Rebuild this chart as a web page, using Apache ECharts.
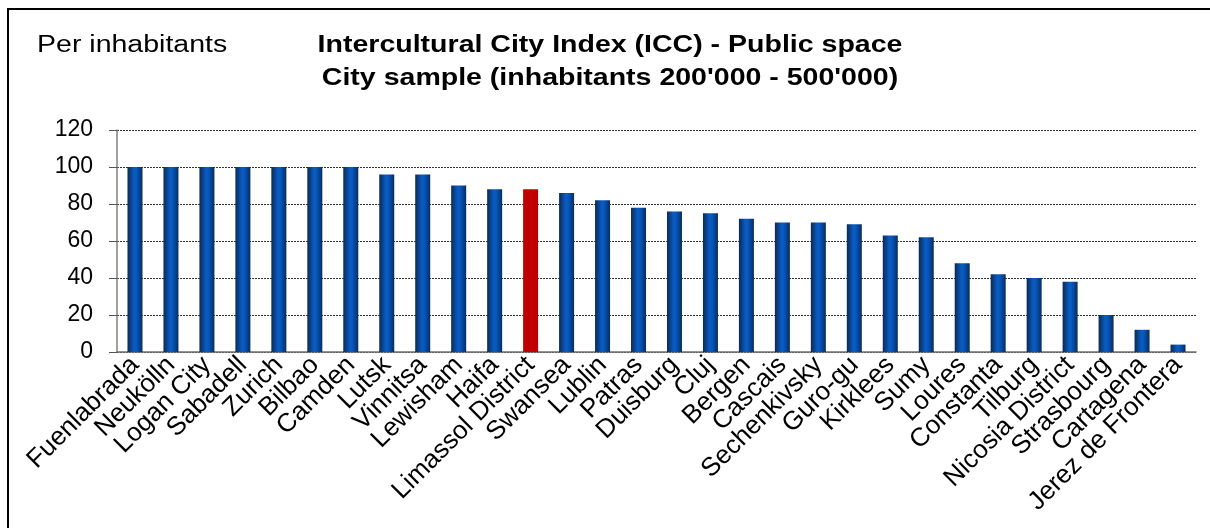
<!DOCTYPE html>
<html>
<head>
<meta charset="utf-8">
<script src="https://cdn.jsdelivr.net/npm/echarts@6/dist/echarts.min.js"></script>
<style>
  html, body { margin: 0; padding: 0; background: #fff; }
  #chart { width: 1210px; height: 528px; }
</style>
</head>
<body>
<div id="chart"></div>
<script>
// City sample, inhabitants 200'000 - 500'000
const cities = [
  'Fuenlabrada', 'Neukölln', 'Logan City', 'Sabadell', 'Zurich', 'Bilbao', 'Camden',
  'Lutsk', 'Vinnitsa', 'Lewisham', 'Haifa', 'Limassol District', 'Swansea', 'Lublin',
  'Patras', 'Duisburg', 'Cluj', 'Bergen', 'Cascais', 'Sechenkivsky', 'Guro-gu',
  'Kirklees', 'Sumy', 'Loures', 'Constanta', 'Tilburg', 'Nicosia District',
  'Strasbourg', 'Cartagena', 'Jerez de Frontera'
];
// Public space index per city
const publicSpace = [
  100, 100, 100, 100, 100, 100, 100,
  96, 96, 90, 88, 88, 86, 82,
  78, 76, 75, 72, 70, 70, 69,
  63, 62, 48, 42, 40, 38,
  20, 12, 4
];
const highlighted = 'Limassol District';
const yTicks = [0, 20, 40, 60, 80, 100, 120];
const titleLines = ['Intercultural City Index (ICC) - Public space', "City sample (inhabitants 200'000 - 500'000)"];
const unitLabel = 'Per inhabitants';

const blueBar = {
  type: 'linear', x: 0, y: 0, x2: 1, y2: 0,
  colorStops: [
    { offset: 0, color: '#0a2a55' },
    { offset: 0.45, color: '#0a5cc4' },
    { offset: 0.6, color: '#0558c0' },
    { offset: 1, color: '#0a2c5a' }
  ]
};

// heading text, slightly widened
function wideText(text, x, y, bold, align) {
  return {
    type: 'text', x: x, y: y, scaleX: 1.24, silent: true,
    style: {
      text: text,
      font: (bold ? 'bold ' : '') + '23px "Liberation Sans", Arial',
      fill: '#000',
      align: align, textAlign: align,
      verticalAlign: 'middle', textVerticalAlign: 'middle'
    }
  };
}

const chart = echarts.init(document.getElementById('chart'));
chart.setOption({
  animation: false,
  graphic: [
    {
      type: 'rect',
      shape: { x: 8, y: 9, width: 1215, height: 540 },
      style: { fill: 'none', stroke: '#000', lineWidth: 2 },
      silent: true
    },
    wideText(unitLabel, 37, 46, false, 'left'),
    wideText(titleLines[0], 610, 46, true, 'center'),
    wideText(titleLines[1], 610, 79, true, 'center')
  ],
  grid: { left: 117, right: 14, top: 130, bottom: 176 },
  xAxis: {
    type: 'category',
    data: cities,
    axisLine: { lineStyle: { color: '#707070', width: 1.5 } },
    axisTick: { length: 7, lineStyle: { color: '#555' } },
    axisLabel: {
      interval: 0, rotate: 45, margin: 9,
      fontFamily: 'Liberation Sans, Arial', fontSize: 26, color: '#000'
    }
  },
  yAxis: {
    type: 'value',
    min: yTicks[0], max: yTicks[yTicks.length - 1], interval: 20,
    axisLine: { show: true, lineStyle: { color: '#808080', width: 1.5 } },
    axisTick: { show: true, length: 8, lineStyle: { color: '#555' } },
    axisLabel: { margin: 24, fontFamily: 'Liberation Sans, Arial', fontSize: 23, color: '#000' },
    splitLine: { lineStyle: { color: '#333', type: [2, 1], width: 1 } }
  },
  series: [{
    type: 'bar',
    barWidth: 15,
    data: publicSpace.map((v, i) => ({
      value: v,
      itemStyle: { color: cities[i] === highlighted ? '#c00000' : blueBar }
    }))
  }]
});
</script>
</body>
</html>
